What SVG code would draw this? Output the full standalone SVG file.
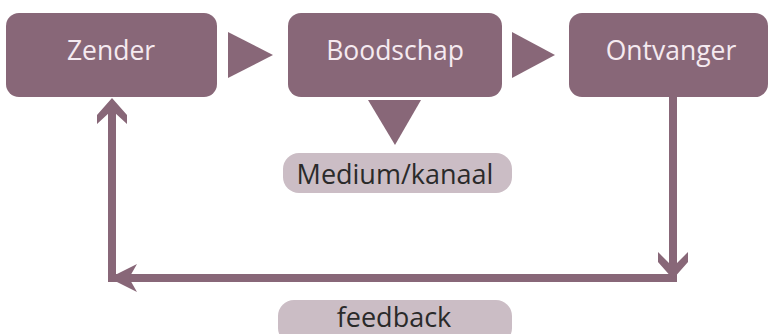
<svg xmlns="http://www.w3.org/2000/svg" width="769" height="334" viewBox="0 0 769 334">
<style>
.box{fill:#886778}
.pill{fill:#cbbdc5}
.tri{fill:#886778}
.bt{font-family:"Open Sans","Noto Sans",sans-serif;font-size:26.5px;fill:#f5eaf0;text-anchor:middle}
.pt{font-family:"Open Sans","Noto Sans",sans-serif;font-size:27px;fill:#2a2a2a;text-anchor:middle}
.ln{stroke:#886778;stroke-width:8;fill:none}
.ah{fill:#886778}
</style>
<rect width="769" height="334" fill="#ffffff"/>
<g id="zender">
<rect class="box" x="6" y="13" width="211" height="84" rx="13"/>
<text class="bt" x="111" y="60">Zender</text>
</g>
<g id="boodschap">
<rect class="box" x="288" y="13" width="214" height="84" rx="13"/>
<text class="bt" x="395" y="60">Boodschap</text>
</g>
<g id="ontvanger">
<rect class="box" x="569" y="13" width="199" height="84" rx="13"/>
<text class="bt" x="671" y="60">Ontvanger</text>
</g>
<g id="medium">
<rect class="pill" x="283" y="153" width="229" height="40" rx="16"/>
<text class="pt" x="395" y="184">Medium/kanaal</text>
</g>
<g id="feedback">
<rect class="pill" x="278" y="300" width="234" height="44" rx="16"/>
<text class="pt" x="394" y="327">feedback</text>
</g>
<g id="connectors">
<polygon class="tri" points="228,32 273,55 228,78"/>
<polygon class="tri" points="512,32 555,55 512,78"/>
<polygon class="tri" points="368,100 421,100 395,145"/>
<path class="ln" d="M673,97 V278 H112 V104"/>
<polygon class="ah" points="112,98 127,115 127,124 114,112 110,112 97,124 97,115"/>
<polygon class="ah" points="109,278 137,264 129,278 137,292"/>
<polygon class="ah" points="673,279 688,262 688,252 675,265 671,265 658,252 658,262"/>
</g>
</svg>
